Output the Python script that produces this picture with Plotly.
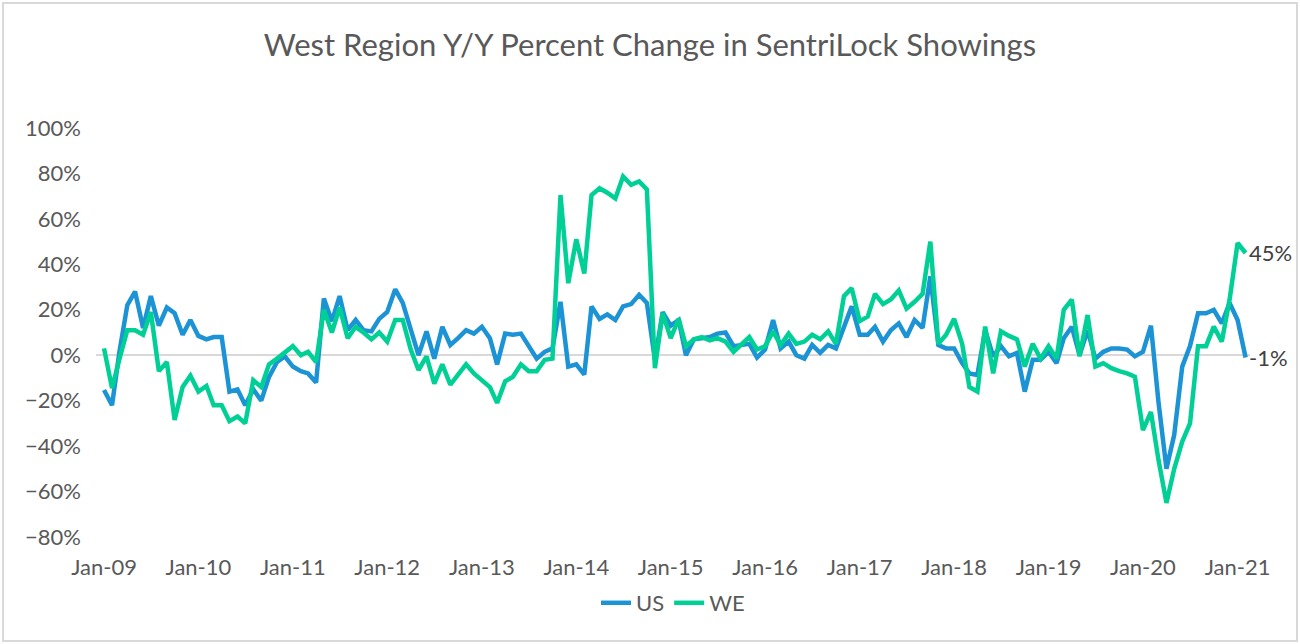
import pandas as pd
import plotly.graph_objects as go

months = pd.date_range("2009-01-01", periods=146, freq="MS")

us = [-15.3, -22, 1, 22, 28, 12, 26, 13, 21, 18.5, 9, 15.5,
      8.5, 7, 8, 8, -16, -15, -22, -15, -20, -9.5, -3, -0.5,
      -5, -7, -8, -12, 25, 15, 26, 11, 15.5, 11, 10.5, 16,
      19, 29, 23, 11, 0, 10.5, -1.5, 12.5, 4.5, 7.5, 11, 9.5,
      12.5, 7.5, -4, 9.5, 9, 9.5, 4, -1.5, 1.5, 3, 23.5, -5,
      -4, -8.5, 21.5, 16, 18, 15.5, 21.5, 22.5, 26.6, 23, -2, 19,
      13, 15.5, 0, 7, 7.5, 8, 9.5, 10, 4, 4.5, 5, -1,
      2.5, 15.5, 3, 6, 0, -1.5, 4.5, 1, 4.5, 3, 12.5, 21.5,
      9, 9, 12.5, 6, 11, 14, 8, 15.5, 12, 34.7, 4.5, 3,
      3, -3.5, -8, -8.7, 11, -0.5, 4, -0.5, 1, -16, -2, -2,
      1.5, -3.5, 7.5, 12.5, 0, 11, -1.5, 1.5, 3, 3, 2.5, -0.5,
      1.5, 13, -20.5, -50, -35, -5, 4, 18.5, 18.5, 20, 14, 23,
      15.5, -1]

we = [3, -14.5, -2, 11, 11, 9, 19, -7, -3, -28.5, -14, -9,
      -16, -13.5, -22, -22, -29, -27, -30, -11, -14, -4, -1.5, 1.5,
      4, 0, 1.5, -3, 20, 10, 21, 7.5, 12.5, 10, 7, 10,
      6, 15.5, 15.5, 2.5, -6.5, -0.5, -12.5, -4, -13, -8.5, -4, -8,
      -11, -14, -21, -11.5, -9.5, -4, -7, -7, -2, -1.5, 70.5, 31.7,
      51, 36, 70.5, 73.5, 71.5, 69, 78.7, 75, 76.5, 73, -5.7, 18.5,
      7.5, 16, 4, 7, 8, 6.5, 7.5, 6, 1.5, 4.5, 8, 2.5,
      4, 10.5, 4.5, 9.5, 5, 6, 9, 7, 10.5, 5, 26, 29.5,
      15, 17, 27, 22.5, 24.5, 28.5, 20.5, 23.5, 27, 50, 5, 9,
      16, 5, -14, -16, 12.6, -8, 10.5, 8.5, 7, -5, 5, -1.5,
      4, -1.5, 20, 24.5, -0.5, 17.7, -5, -3.5, -5.7, -7, -8, -9.5,
      -33, -25, -46, -65, -50, -38, -30, 4, 4, 12.6, 6, 24.4,
      49.4, 45]

series_names = ["US", "WE"]
colors = ["#1B93D5", "#00D096"]
end_labels = ["-1%", "45%"]

TXT = "#595959"
FONT = "Lato, 'Open Sans', sans-serif"

fig = go.Figure()
for name, vals, col in zip(series_names, [us, we], colors):
    fig.add_trace(go.Scatter(x=months, y=vals, name=name, mode="lines",
                             line=dict(color=col, width=4.5),
                             hovertemplate="%{x|%b-%y}: %{y}%<extra>" + name + "</extra>"))

for vals, lab in zip([us, we], end_labels):
    fig.add_annotation(x=months[-1], y=vals[-1], text=lab, showarrow=False,
                       xanchor="left", yanchor="middle", xshift=1,
                       font=dict(size=22, color="#404040", family=FONT))

W, H = 1300, 644
L, R, T, B = 96, 50, 128, 107
pw, ph = W - L - R, H - T - B

fig.update_layout(
    width=W, height=H,
    paper_bgcolor="white", plot_bgcolor="white",
    margin=dict(l=L, r=R, t=T, b=B),
    title=dict(text="West Region Y/Y Percent Change in SentriLock Showings",
               x=0.5, xanchor="center", y=1 - 45 / H, yanchor="middle",
               font=dict(size=31, color=TXT, family=FONT)),
    font=dict(family=FONT, color=TXT),
    showlegend=True,
    legend=dict(orientation="h", x=0.5, xanchor="center", y=-(602 - 537 - 20) / ph,
                yanchor="top", font=dict(size=22, color=TXT, family=FONT)),
    shapes=[dict(type="rect", xref="paper", yref="paper",
                 x0=-(L - 3) / pw, x1=(1297 - L) / pw,
                 y0=-(641 - 537) / ph, y1=(537 - 3) / ph,
                 line=dict(color="#D9D9D9", width=2), fillcolor="rgba(0,0,0,0)",
                 layer="below")],
)
fig.update_xaxes(range=["2008-12-01", "2021-02-18"], tickformat="%b-%y",
                 dtick="M12", tick0="2009-01-01", showgrid=False, zeroline=False,
                 showline=False, ticks="", tickfont=dict(size=22, color=TXT),
                 ticklabelstandoff=15)
fig.update_yaxes(range=[-80, 100], dtick=20, ticksuffix="%", showgrid=False,
                 zeroline=True, zerolinecolor="#D9D9D9", zerolinewidth=1.5,
                 showline=False, ticks="", tickfont=dict(size=22, color=TXT),
                 ticklabelstandoff=14)

fig.write_html("out.html", config={"displayModeBar": False},
               post_script="document.body.style.margin='0';")
